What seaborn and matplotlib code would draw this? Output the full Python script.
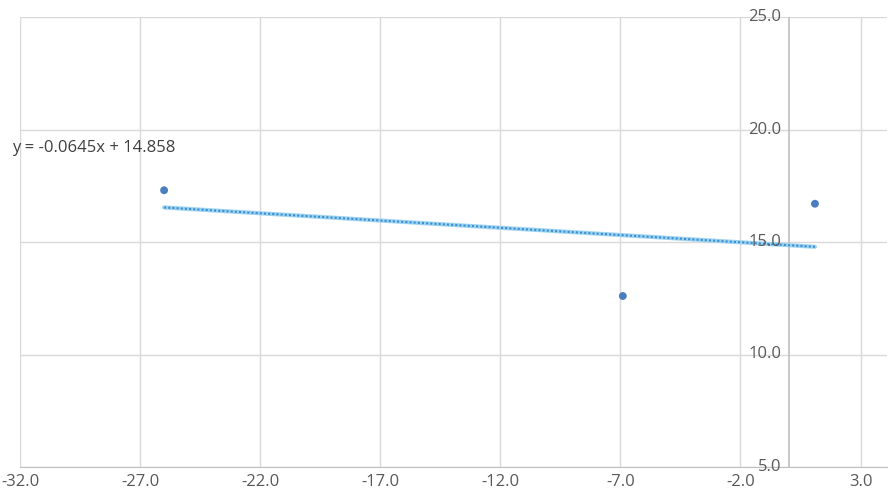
import numpy as np
import pandas as pd
import matplotlib
matplotlib.use("Agg")
import matplotlib.pyplot as plt
import seaborn as sns

x_vals = [-26.0, -6.9, 1.1]
y_vals = [17.3, 12.6, 16.7]
slope = -0.0645
intercept = 14.858
x_ticks = [-32.0, -27.0, -22.0, -17.0, -12.0, -7.0, -2.0, 3.0]
y_ticks = [5.0, 10.0, 15.0, 20.0, 25.0]

sns.set_style("white")
plt.rcParams['font.family'] = ['Open Sans', 'DejaVu Sans']

fig = plt.figure(figsize=(8.93, 5.04), dpi=100)
ax = fig.add_axes([20 / 893, 37 / 504, 867 / 893, 450 / 504])

df = pd.DataFrame({"x": x_vals, "y": y_vals})
sns.scatterplot(data=df, x="x", y="y", ax=ax, color="#4a7ebf", s=32, edgecolor="none", zorder=3)

tx = np.array([min(x_vals), max(x_vals)])
ty = slope * tx + intercept
ax.plot(tx, ty, color="#9dd3f0", lw=3, zorder=2)
ax.plot(tx, ty, color="#3a8fd0", lw=1.5, ls=(0, (1, 1)), zorder=2)

ax.set_xlim(-32, 4.1)
ax.set_ylim(5, 25)
ax.set_xticks(x_ticks)
ax.set_yticks(y_ticks)
ax.set_xticklabels([f"{v:.1f}" for v in x_ticks], fontsize=12, color="#595959")
ax.set_yticklabels([])
ax.tick_params(length=0, pad=5)
ax.grid(True, color="#d9d9d9", lw=1)
ax.set_xlabel("")
ax.set_ylabel("")
for s in ["top", "right", "left"]:
    ax.spines[s].set_visible(False)
ax.spines["bottom"].set_color("#bfbfbf")
ax.axvline(0, color="#bfbfbf", lw=1.2, zorder=1)

for v in y_ticks:
    ax.text(-0.3, v, f"{v:.1f}", ha="right", va="center", fontsize=12, color="#595959")

ax.text(-32.35, 19.2, f"y = {slope}x + {intercept}", ha="left", va="center",
        fontsize=12, color="#404040")

fig.savefig("out.png", dpi=100)
